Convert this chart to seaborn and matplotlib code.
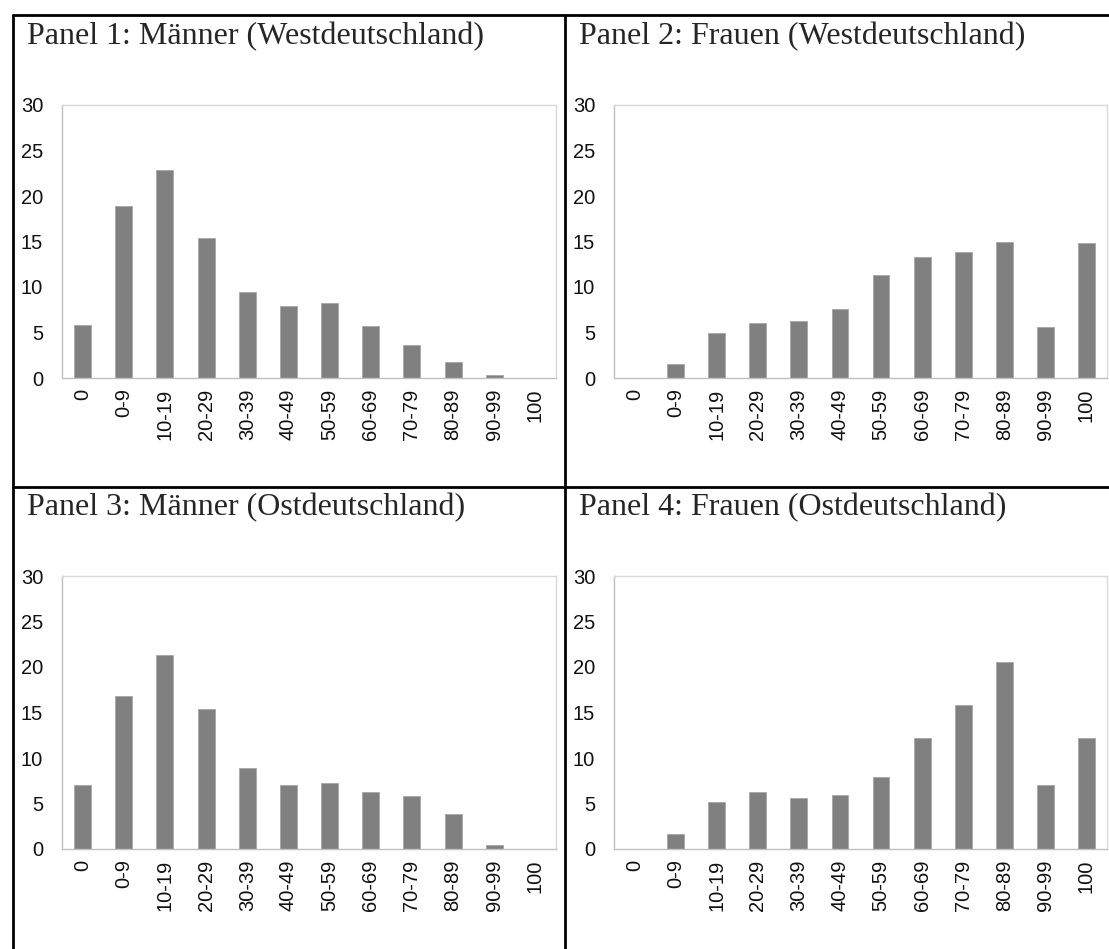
import numpy as np
import pandas as pd
import seaborn as sns
import matplotlib.pyplot as plt
from matplotlib.lines import Line2D

# share of income (categories) per group, in percent
categories = ["0", "0-9", "10-19", "20-29", "30-39", "40-49", "50-59",
              "60-69", "70-79", "80-89", "90-99", "100"]
maenner_west = [5.8, 18.9, 22.9, 15.4, 9.5, 7.9, 8.2, 5.7, 3.6, 1.8, 0.3, 0.0]
frauen_west = [0.0, 1.5, 4.9, 6.0, 6.3, 7.6, 11.3, 13.3, 13.9, 14.9, 5.6, 14.8]
maenner_ost = [7.0, 16.8, 21.3, 15.4, 8.9, 7.0, 7.2, 6.3, 5.8, 3.9, 0.4, 0.0]
frauen_ost = [0.0, 1.6, 5.2, 6.3, 5.6, 5.9, 7.9, 12.2, 15.8, 20.5, 7.0, 12.2]

titles = ["Panel 1: Männer (Westdeutschland)", "Panel 2: Frauen (Westdeutschland)",
          "Panel 3: Männer (Ostdeutschland)", "Panel 4: Frauen (Ostdeutschland)"]
series = [maenner_west, frauen_west, maenner_ost, frauen_ost]

sns.set_style("white")
plt.rcParams['font.family'] = ['Liberation Sans', 'DejaVu Sans']

W, H = 1109, 949
fig = plt.figure(figsize=(W / 100, H / 100), dpi=100)

# axes boxes in pixels: left, top, right, bottom
boxes = [(62, 105, 556, 378), (614, 105, 1107, 378),
         (62, 576, 556, 849), (614, 576, 1107, 849)]
# title baseline positions in pixels
title_pos = [(27, 44), (579, 44), (27, 515), (579, 515)]

frame_col = "#d9d9d9"
tick_col = "#c0c0c0"
for vals, title, (l, t, r, b), (tx, ty) in zip(series, titles, boxes, title_pos):
    ax = fig.add_axes([l / W, 1 - b / H, (r - l) / W, (b - t) / H])
    df = pd.DataFrame({"cat": categories, "val": vals})
    sns.barplot(data=df, x="cat", y="val", color="#808080", saturation=1,
                width=0.41, edgecolor="#a6a6a6", linewidth=0.6, ax=ax)
    ax.set_xlim(-0.5, len(categories) - 0.5)
    ax.set_ylim(0, 30)
    ax.set_yticks(range(0, 31, 5))
    ax.set_xlabel("")
    ax.set_ylabel("")
    for s in ax.spines.values():
        s.set_color(frame_col)
        s.set_linewidth(1)
    ax.spines['left'].set_color(tick_col)
    ax.spines['bottom'].set_color(tick_col)
    ax.set_xticks(np.arange(-0.5, len(categories), 1), minor=True)
    ax.tick_params(axis='x', which='major', length=0, pad=7.5, labelsize=14.5,
                   labelrotation=90, labelcolor="#111111")
    ax.tick_params(axis='x', which='minor', length=4.5, color=tick_col, width=1)
    ax.tick_params(axis='y', length=4.5, color=tick_col, width=1, pad=9,
                   labelsize=14.5, labelcolor="#111111")
    fig.text(tx / W, 1 - ty / H, title, ha='left', va='baseline',
             family='Liberation Serif', fontsize=23)

# table lines around the panels
lw = 2
fig.add_artist(Line2D([12.5 / W, 1], [1 - 15 / H, 1 - 15 / H], color='black', lw=lw))
fig.add_artist(Line2D([12.5 / W, 12.5 / W], [0, 1 - 15 / H], color='black', lw=lw))
fig.add_artist(Line2D([565 / W, 565 / W], [0, 1 - 15 / H], color='black', lw=lw))
fig.add_artist(Line2D([12.5 / W, 1], [1 - 487 / H, 1 - 487 / H], color='black', lw=lw))

fig.savefig("out.png", dpi=100)
